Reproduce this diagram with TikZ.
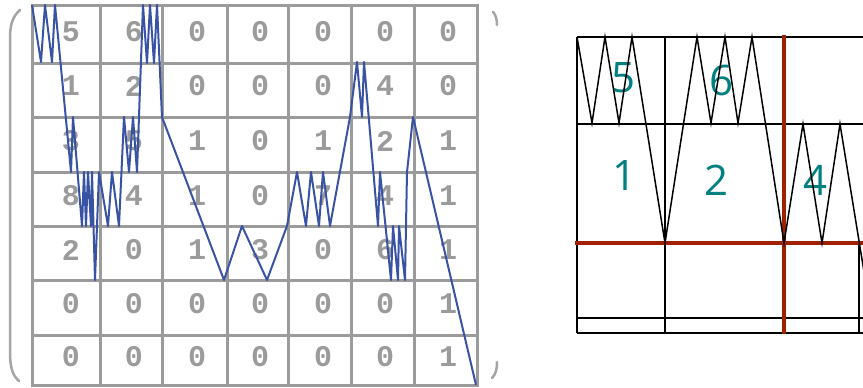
\documentclass[tikz,border=0pt]{standalone}
\usepackage{fontspec}
\newfontfamily\matfont{Liberation Mono}
\newfontfamily\labfont{Open Sans}
\definecolor{gridgray}{RGB}{155,155,155}
\definecolor{pathblue}{RGB}{57,83,164}
\definecolor{cutred}{RGB}{160,32,0}
\definecolor{labteal}{RGB}{0,128,128}
\begin{document}
\begin{tikzpicture}[x=1pt,y=-1pt,
    entry/.style={inner sep=0pt,text=gridgray,font=\matfont\bfseries\fontsize{30}{30}\selectfont},
    count/.style={inner sep=0pt,text=labteal,font=\labfont\fontsize{42}{42}\selectfont},
    cell/.style={draw=gridgray,line width=3pt,line cap=rect},
    paren/.style={draw=gridgray!90,line width=2.5pt,line cap=round},
    walk/.style={draw=pathblue,line width=2pt,line join=round},
    block/.style={draw=black,line width=1.5pt},
    cut/.style={draw=cutred,line width=4.5pt}]
    \clip (0,0) rectangle (863,388);
    % matrix entries
    \foreach \r/\y/\vals in {1/32/{5,6,0,0,0,0,0},2/86/{1,2,0,0,0,4,0},
        3/141/{3,5,1,0,1,2,1},4/196/{8,4,1,0,7,4,1},5/250/{2,0,1,3,0,6,1},
        6/304/{0,0,0,0,0,0,1},7/357/{0,0,0,0,0,0,1}}
      \foreach \v [count=\c] in \vals {
        \pgfmathsetmacro\x{{71,134,197,260,323,385,448}[\c-1]}
        \node[entry] (m\r\c) at (\x,\y) {\v};
      }
    % matrix grid
    \foreach \x in {32,100,162,227,288,351,414,477}
      \draw[cell] (\x,5) -- (\x,385);
    \foreach \y in {5,63,117,172,226,280,335,385}
      \draw[cell] (32,\y) -- (477,\y);
    % brackets
    \draw[paren] (20,10) .. controls (12,17) and (10,26) .. (10,38) -- (10,352)
      .. controls (10,366) and (12,375) .. (19,381);
    \draw[paren] (493,12) .. controls (496,15) and (497,20) .. (497,25);
    \draw[paren] (497,362) .. controls (497,369) and (496,374) .. (492,378);
    % walk over the matrix
    \draw[walk] (32,5) -- (41,62) -- (45,5) -- (52,62) -- (55,5) -- (71,172)
      -- (73,117) -- (82,226) -- (84,172) -- (86,226) -- (88,172) -- (91,226)
      -- (92,172) -- (95,280) -- (99,172) -- (108,226) -- (112,172) -- (119,226)
      -- (124,117) -- (129,172) -- (133,117) -- (137,172) -- (143,5) -- (147,63)
      -- (150,5) -- (154,63) -- (157,5) -- (162,117) -- (224,280) -- (242,226)
      -- (267,280) -- (287,226) -- (297,172) -- (306,226) -- (311,172) -- (319,226)
      -- (323,172) -- (330,226) -- (350,117) -- (357,62) -- (362,117) -- (364,62)
      -- (378,226) -- (380,172) -- (391,280) -- (393,226) -- (398,280) -- (399,226)
      -- (405,280) -- (407,172) -- (413,117) -- (476,385);
    % blocks on the right
    \foreach \y in {37,124,318,333}
      \draw[block] (577,\y) -- (863,\y);
    \draw[block] (577,37) -- (577,333);
    \draw[block] (665,37) -- (665,333);
    \draw[block] (859,243) -- (859,333);
    \node[count] (c5) at (624,78) {5};
    \node[count] (c6) at (722,80) {6};
    \node[count] (c1) at (625,176) {1};
    \node[count] (c2) at (717,180) {2};
    \node[count] (c4) at (816,180) {4};
    \node[count] (cx) at (873,278) {1};
    \draw[cut] (575,243) -- (863,243);
    \draw[cut] (784,35) -- (784,334);
    \draw[block,line join=miter] (577,37) -- (592,123) -- (605,37) -- (619,123)
      -- (632,37) -- (665,243) -- (697,37) -- (711,123) -- (725,37) -- (738,123)
      -- (752,37) -- (784,243) -- (803,124) -- (822,243) -- (840,124) -- (866,284);
\end{tikzpicture}
\end{document}
